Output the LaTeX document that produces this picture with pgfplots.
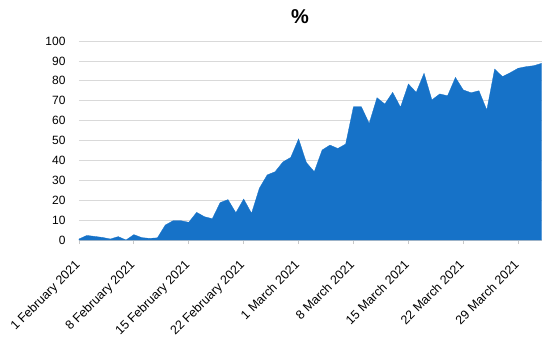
\documentclass[border=0pt]{standalone}
\usepackage{fontspec}
\setmainfont{Liberation Sans}
\usepackage{pgfplots}
\pgfplotsset{compat=1.18}
\definecolor{areablue}{RGB}{22,114,200}
\definecolor{gridgray}{RGB}{217,217,217}
\definecolor{axisgray}{RGB}{200,200,200}
\begin{document}
\begin{tikzpicture}[x=1pt,y=1pt]
\useasboundingbox (0,0) rectangle (550,-348);
\node[font=\fontsize{20}{24}\selectfont\bfseries] at (300,-17) {\%};
\begin{axis}[
  at={(79pt,-240pt)}, anchor=south west,
  scale only axis, width=462.7pt, height=199pt,
  xmin=0, xmax=59, ymin=0, ymax=100,
  axis x line*=bottom, axis y line*=left,
  y axis line style={draw=none},
  x axis line style={axisgray, line width=0.8pt},
  ytick={0,10,...,100},
  ymajorgrids, grid style={gridgray, line width=0.8pt},
  ytick style={draw=none},
  xtick={0,7,...,56},
  xticklabels={1 February 2021,8 February 2021,15 February 2021,22 February 2021,1 March 2021,8 March 2021,15 March 2021,22 March 2021,29 March 2021},
  xtick style={axisgray, line width=0.8pt},
  tick align=outside, major tick length=4pt,
  xticklabel shift=9pt,
  xticklabel style={rotate=45, anchor=north east, xshift=-7pt, font=\fontsize{12.5}{14}\selectfont, inner sep=1pt},
  yticklabel style={font=\fontsize{12}{14}\selectfont, xshift=-6pt},
  /pgf/number format/assume math mode=true,
]
\addplot[fill=areablue, draw=areablue, line width=0.3pt] table {
x y
0 0.5
1 2.3
2 1.8
3 1.3
4 0.5
5 1.7
6 0
7 2.7
8 1.2
9 0.8
10 1.1
11 7.5
12 9.7
13 9.7
14 8.9
15 13.9
16 11.7
17 10.7
18 18.8
19 20.3
20 13.7
21 20.6
22 13.4
23 26
24 32.7
25 34.3
26 39.2
27 41.5
28 50.8
29 38.9
30 34.3
31 45.2
32 47.7
33 46
34 48.2
35 67
36 67
37 58.6
38 71.5
39 68.3
40 74.2
41 66.7
42 78.4
43 74.2
44 83.8
45 70.4
46 73.4
47 72.5
48 81.7
49 75.4
50 74
51 75
52 65.3
53 85.9
54 82.1
55 84.1
56 86.3
57 87.1
58 87.6
59 88.8
} \closedcycle;
\end{axis}
\end{tikzpicture}
\end{document}
